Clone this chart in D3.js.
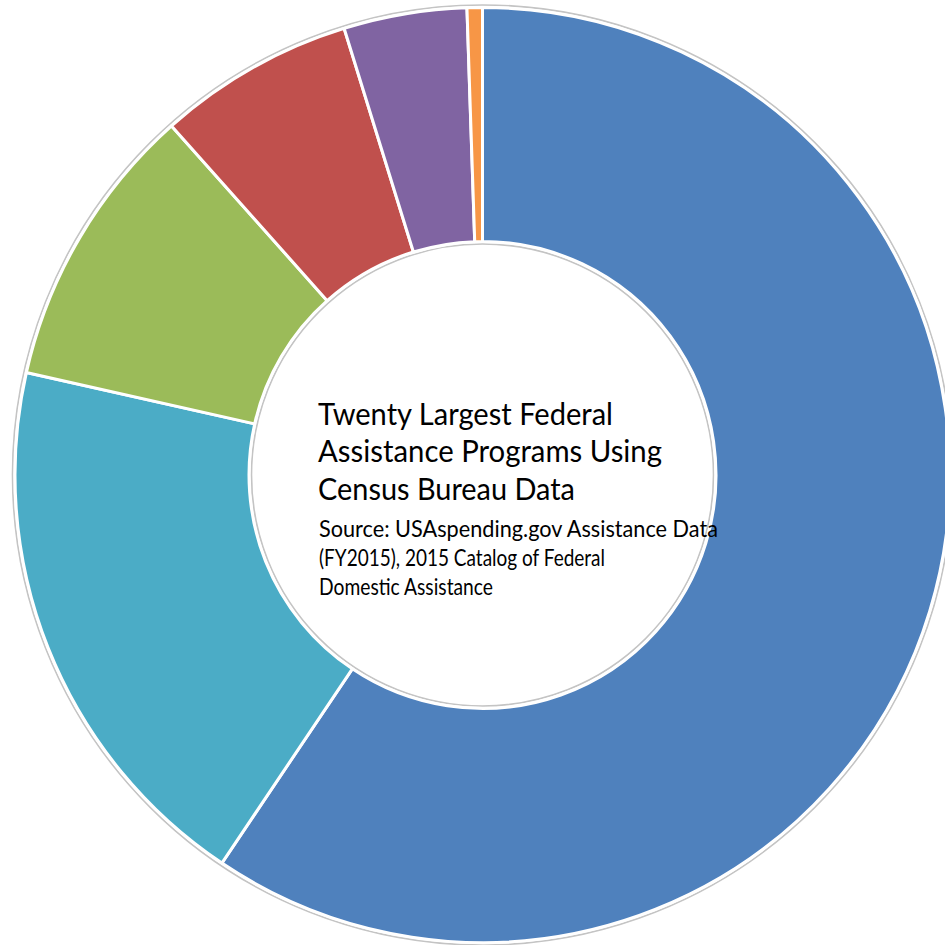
<!DOCTYPE html>
<html>
<head>
<meta charset="utf-8">
<script src="https://cdn.jsdelivr.net/npm/d3@7"></script>
<style>
html,body{margin:0;padding:0;background:#fff;}
svg{display:block;}
</style>
</head>
<body>
<svg id="chart" width="945" height="945"></svg>
<script>
const categories = ["Program group A","Program group B","Program group C","Program group D","Program group E","Program group F"];
const values = [59.4, 19.1, 9.9, 6.8, 4.25, 0.53];
const colors = ["#4F81BD","#4BACC6","#9BBB59","#C0504D","#8064A2","#F79646"];
const titleLines = ["Twenty Largest Federal","Assistance Programs Using","Census Bureau Data"];
const sourceLines = ["Source: USAspending.gov Assistance Data","(FY2015), 2015 Catalog of Federal","Domestic Assistance"];

const svg = d3.select("#chart");
const cx = 482.5, cy = 475;
const rOuter = 467.5, rInner = 233.5;

const g = svg.append("g").attr("transform", `translate(${cx},${cy})`);

// soft grey rims
g.append("circle").attr("r", rOuter + 2.5).attr("fill","none").attr("stroke","#c4c4c4").attr("stroke-width",1.6);
g.append("circle").attr("r", rInner - 2.5).attr("fill","none").attr("stroke","#c4c4c4").attr("stroke-width",1.6);

const pie = d3.pie().value(d => d).sort(null);
const arc = d3.arc().innerRadius(rInner).outerRadius(rOuter);
const color = d3.scaleOrdinal().domain(d3.range(values.length)).range(colors);

g.selectAll("path.slice")
  .data(pie(values))
  .join("path")
  .attr("class","slice")
  .attr("d", arc)
  .attr("fill", (d,i) => color(i))
  .attr("stroke", "#fff")
  .attr("stroke-width", 3)
  .attr("stroke-linejoin","round");

// center text
const x0 = 318;
const titleBase = [425, 462, 500];
const titleEnd = [613, 662, 575];
const srcBase = [537, 566, 595];
const srcEnd = [718, 605, 493];

titleLines.forEach((t,i) => {
  svg.append("text")
    .attr("x", x0).attr("y", titleBase[i])
    .attr("font-family","Lato, 'Open Sans', sans-serif")
    .attr("font-size", 30.5)
    .attr("fill","#000")
    .attr("textLength", titleEnd[i] - x0)
    .attr("lengthAdjust","spacingAndGlyphs")
    .text(t);
});
sourceLines.forEach((t,i) => {
  svg.append("text")
    .attr("x", x0 + 1).attr("y", srcBase[i])
    .attr("font-family","Lato, 'Open Sans', sans-serif")
    .attr("font-size", 23)
    .attr("fill","#000")
    .attr("textLength", srcEnd[i] - x0 - 1)
    .attr("lengthAdjust","spacingAndGlyphs")
    .text(t);
});
</script>
</body>
</html>
